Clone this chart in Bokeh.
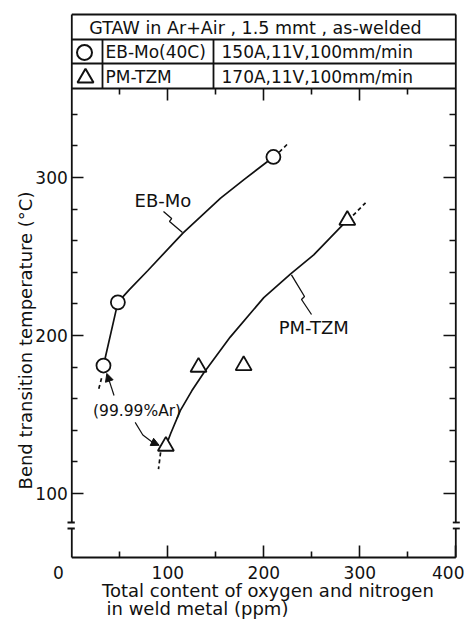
import math
from bokeh.plotting import figure
from bokeh.models import Range1d, FixedTicker, LinearAxis, Arrow, NormalHead
from bokeh.embed import file_html
from bokeh.resources import INLINE
from bokeh.core.properties import value

FONT = "DejaVu Sans"
INK = "#111111"

# ---------------- data ----------------
eb_x = [33, 48, 210]                    # EB-Mo(40C)  (circles)
eb_y = [181, 221, 313]
tzm_x = [98, 132, 179, 287]             # PM-TZM (triangles)
tzm_y = [130, 180, 181, 273]

eb_line_x = [33, 48, 60, 79, 116, 155, 180, 210]
eb_line_y = [181, 221, 229, 241, 265, 287, 299, 313]
tzm_line_x = [98, 103, 113, 125, 137, 165, 200, 228, 252, 287]
tzm_line_y = [130, 138, 152.5, 165, 176, 199, 224, 239, 251, 273]

eb_ext_x = [[216, 226], [31, 28]]
eb_ext_y = [[316, 322], [173, 166]]
tzm_ext_x = [[293, 306], [92.5, 90.3]]
tzm_ext_y = [[276, 284], [126, 115.5]]

eb_lead_x = [95.5, 104, 101.8, 115.3]
eb_lead_y = [278.5, 274, 272.2, 265.2]
tzm_lead_x = [249.7, 239.3, 242.4, 228.8]
tzm_lead_y = [213.3, 222.8, 224.7, 238.4]

x_ticks = [100, 200, 300, 400]
x_minor = [50, 150, 250, 350]
y_ticks = [100, 200, 300]
y_minor = [120, 140, 160, 180, 220, 240, 260, 280, 320, 340]

x_title = ["Total content of oxygen and nitrogen", "in weld metal (ppm)"]
y_title = "Bend transition temperature (°C)"
table_title = "GTAW in Ar+Air , 1.5 mmt , as-welded"
table_names = ["EB-Mo(40C)", "PM-TZM"]
table_cond = ["150A,11V,100mm/min", "170A,11V,100mm/min"]

# ---------------- geometry (page pixels) ----------------
W, H = 464, 620
X0PX, XS = 71.3, 0.96          # page x of x=0, px per unit
Y0PX, Y0, YS = 557, 59.5, 1.58  # page y of the bottom line, its value, px per unit
x_start = -X0PX / XS
x_end = x_start + W / XS
y_start = Y0 - (H - Y0PX) / YS
y_end = Y0 + Y0PX / YS
XL, XR = X0PX, X0PX + 400 * XS
TOP_PX = 88
y_top = Y0 + (Y0PX - TOP_PX) / YS

p = figure(width=W, height=H, output_backend="svg", toolbar_location=None,
           title=None, x_range=Range1d(x_start, x_end), y_range=Range1d(y_start, y_end),
           x_axis_type=None, y_axis_type=None, min_border=0,
           min_border_left=0, min_border_right=0, min_border_top=0, min_border_bottom=0)
p.outline_line_color = None
p.background_fill_color = "white"
p.border_fill_color = "white"
p.extra_x_ranges = {"sx": Range1d(0, W)}
p.extra_y_ranges = {"sy": Range1d(H, 0)}


def make_axis(ticks, minor, loc, tick_len=12, minor_len=6):
    ax = LinearAxis(ticker=FixedTicker(ticks=ticks, minor_ticks=minor), fixed_location=loc)
    ax.axis_line_color = None
    ax.major_tick_in = tick_len
    ax.major_tick_out = 0
    ax.minor_tick_in = minor_len
    ax.minor_tick_out = 0
    ax.major_tick_line_color = INK
    ax.minor_tick_line_color = INK
    ax.major_tick_line_width = 1.6
    ax.minor_tick_line_width = 1.6
    ax.major_label_text_font = FONT
    ax.major_label_text_color = INK
    ax.major_label_text_font_size = "17px"
    return ax


xa = make_axis(x_ticks, x_minor, Y0)
xa.major_label_standoff = 8
p.add_layout(xa, "below")

ya = make_axis(y_ticks, y_minor, 0)
ya.major_label_standoff = 4
p.add_layout(ya, "left")

# right frame ticks (no labels): minor ones and the longer ones at 100/200/300
p.add_layout(make_axis([], y_minor, 400), "right")
p.add_layout(make_axis([], y_ticks, 400, minor_len=12), "right")
# top frame ticks (pointing down) at 50 ... 350
p.add_layout(make_axis([], x_minor, y_top), "above")
p.add_layout(make_axis([], x_ticks[:3], y_top, minor_len=12), "above")

# ---------------- frame, axis breaks and table rules (page px) ----------------
seg = dict(x_range_name="sx", y_range_name="sy", line_color=INK, line_width=1.8)
fx0 = [XL, XL, XL, XL, 102, 213, XL, XL, XR, XR, 67, 67, XR - 3, XR - 3, XL]
fy0 = [14, 39, 63, TOP_PX, 39, 39, 14, 528, 14, 528, 522, 528, 522, 528, Y0PX]
fx1 = [XR, XR, XR, XR, 102, 213, XL, XL, XR, XR, XL + 3, XL + 3, XR + 4, XR + 4, XR]
fy1 = [14, 39, 63, TOP_PX, TOP_PX, TOP_PX, 522, Y0PX, 522, Y0PX, 522, 528, 522, 528, Y0PX]
p.segment(x0=fx0, y0=fy0, x1=fx1, y1=fy1, **seg)

# table texts & symbols
tt = dict(x_range_name="sx", y_range_name="sy", text_font=value(FONT),
          text_color=INK, text_baseline="middle")
p.text(x=[255], y=[27], text=[table_title], text_align="center",
       text_font_size="17.5px", **tt)
p.text(x=[105, 105], y=[51.5, 76], text=table_names, text_align="left",
       text_font_size="17px", **tt)
p.text(x=[221, 221], y=[51.5, 76], text=table_cond, text_align="left",
       text_font_size="17px", **tt)
p.scatter(x=[84], y=[52], marker="circle", size=15, fill_color="white",
          line_color=INK, line_width=2, x_range_name="sx", y_range_name="sy")
p.scatter(x=[85], y=[77.5], marker="triangle", size=16, fill_color="white",
          line_color=INK, line_width=2, x_range_name="sx", y_range_name="sy")

# ---------------- curves ----------------
p.line(eb_line_x, eb_line_y, line_color=INK, line_width=1.7)
p.line(tzm_line_x, tzm_line_y, line_color=INK, line_width=1.7)
p.multi_line(eb_ext_x, eb_ext_y, line_color=INK, line_width=1.7, line_dash="4 3")
p.multi_line(tzm_ext_x, tzm_ext_y, line_color=INK, line_width=1.7, line_dash="4 3")
p.line(eb_lead_x, eb_lead_y, line_color=INK, line_width=1.3)
p.line(tzm_lead_x, tzm_lead_y, line_color=INK, line_width=1.3)

# points
p.scatter(eb_x, eb_y, marker="circle", size=14, fill_color="white",
          line_color=INK, line_width=1.8)
p.scatter(tzm_x, tzm_y, marker="triangle", size=16, fill_color="white",
          line_color=INK, line_width=1.8)

# labels in plot
p.text(x=[95], y=[285.4], text=["EB-Mo"], text_align="center", text_baseline="middle",
       text_font=value(FONT), text_font_size="18px", text_color=INK)
p.text(x=[252], y=[205.3], text=["PM-TZM"], text_align="center", text_baseline="middle",
       text_font=value(FONT), text_font_size="18px", text_color=INK)
p.text(x=[68], y=[152], text=["(99.99%Ar)"], text_align="center", text_baseline="middle",
       text_font=value(FONT), text_font_size="15.5px", text_color=INK)

# arrows of the annotation
p.line([66, 74, 84], [145, 137, 132.5], line_color=INK, line_width=1.2)
p.add_layout(Arrow(end=NormalHead(size=8, fill_color=INK, line_color=INK),
                   x_start=84, y_start=132.5, x_end=91, y_end=130.5,
                   line_color=INK, line_width=1.2))
p.add_layout(Arrow(end=NormalHead(size=8, fill_color=INK, line_color=INK),
                   x_start=44, y_start=162, x_end=36.5, y_end=176,
                   line_color=INK, line_width=1.2))

# ---------------- axis titles and the "0" tick label (page px) ----------------
ot = dict(x_range_name="sx", y_range_name="sy", text_font=value(FONT),
          text_color=INK, text_baseline="middle")
p.text(x=[58], y=[572], text=["0"], text_align="center", text_font_size="17px", **ot)
p.text(x=[101.5, 106], y=[590, 607.5], text=x_title, text_align="left",
       text_font_size="18px", **ot)
p.text(x=[25], y=[340], text=[y_title], angle=math.pi / 2, text_align="center",
       text_font_size="18px", **ot)

open("out.html", "w").write(file_html(p, INLINE))
